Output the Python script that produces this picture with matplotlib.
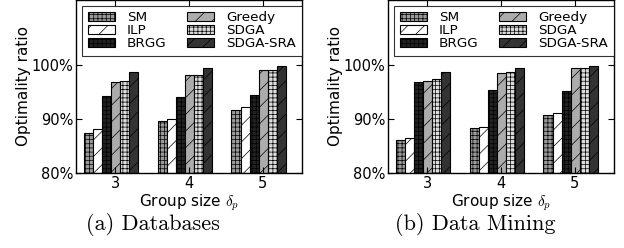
import matplotlib
matplotlib.use("Agg")
import matplotlib.pyplot as plt
import numpy as np

plt.rcParams['mathtext.fontset'] = 'cm'
plt.rcParams['hatch.linewidth'] = 0.5
plt.rcParams['font.family'] = ['DejaVu Sans']

groups = [3, 4, 5]
methods = ["SM", "ILP", "BRGG", "Greedy", "SDGA", "SDGA-SRA"]
databases = {
    "SM":       [87.4, 89.6, 91.7],
    "ILP":      [88.1, 90.0, 92.2],
    "BRGG":     [94.3, 94.1, 94.4],
    "Greedy":   [96.8, 98.1, 99.1],
    "SDGA":     [97.1, 98.2, 99.1],
    "SDGA-SRA": [98.7, 99.4, 99.8],
}
data_mining = {
    "SM":       [86.1, 88.4, 90.8],
    "ILP":      [86.5, 88.6, 91.1],
    "BRGG":     [96.8, 95.3, 95.1],
    "Greedy":   [97.0, 98.5, 99.4],
    "SDGA":     [97.3, 98.6, 99.4],
    "SDGA-SRA": [98.6, 99.4, 99.7],
}
yticks = [80, 90, 100]
ytick_labels = ["80%", "90%", "100%"]
captions = ["(a) Databases", "(b) Data Mining"]

colors = ["#9a9a9a", "#ffffff", "#222222", "#acacac", "#dcdcdc", "#333333"]
hatches = ["++++", "//", "++++", "//", "++++", "//"]

fig = plt.figure(figsize=(6.24, 2.48), dpi=100)
axes_pos = [[76/624, 75/248, 226/624, 173/248],
            [388/624, 75/248, 226/624, 173/248]]
cap_x = [153/624, 475/624]

width = 0.123
for k, (data, cap) in enumerate(zip([databases, data_mining], captions)):
    ax = fig.add_axes(axes_pos[k])
    x = np.array(groups, dtype=float)
    for i, m in enumerate(methods):
        ax.bar(x - 0.425 + i * width, np.array(data[m]) - 80, width, bottom=80,
               align='edge', color=colors[i], edgecolor='black', linewidth=0.8,
               hatch=hatches[i], label=m)
    ax.set_xlim(2.47, 5.53)
    ax.set_ylim(80, 112)
    ax.set_xticks(groups)
    ax.set_xticklabels([str(g) for g in groups], fontsize=10.5)
    ax.set_yticks(yticks)
    ax.set_yticklabels(ytick_labels, fontsize=10.5)
    ax.tick_params(direction='in', top=True, right=True, length=4, pad=2)
    for s in ax.spines.values():
        s.set_linewidth(1.0)
    ax.set_xlabel(r"Group size $\delta_p$", fontsize=11, labelpad=1)
    ax.set_ylabel("Optimality ratio", fontsize=11, labelpad=0)
    leg = ax.legend(ncol=2, loc='upper center', bbox_to_anchor=(0.513, 0.965),
                    fontsize=9.7, frameon=True, fancybox=False,
                    edgecolor='black', handlelength=2.0, handleheight=0.7,
                    labelspacing=0.0, handletextpad=0.9, columnspacing=1.55,
                    borderpad=0.4, borderaxespad=0.0)
    leg.get_frame().set_linewidth(0.8)
    fig.text(cap_x[k], (248 - 224)/248, cap, ha='center', va='center',
             fontsize=16, fontname='cmr10')

fig.savefig("out.png", dpi=100)
